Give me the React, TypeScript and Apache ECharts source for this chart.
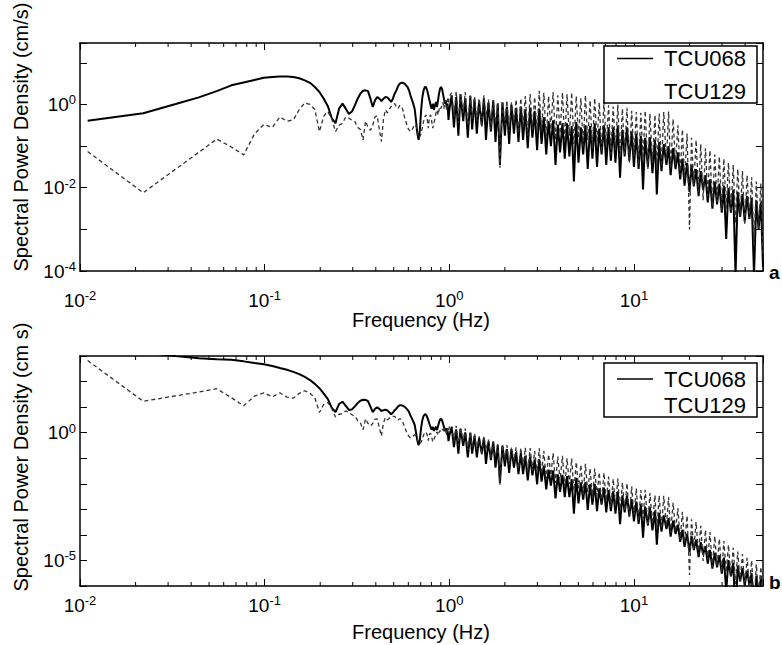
import React, { useEffect, useRef } from "react";
import * as echarts from "echarts";

// ---------- data (PSD values stored as log10 exponents) ----------
const DF = 0.011; // FFT bin width (Hz)
const FREQ_LOW = Array.from({ length: 91 }, (_, i) => Number(((i + 1) * DF).toFixed(3)));
const FREQ_HIGH = [
  1.03, 1.06, 1.09, 1.12, 1.15, 1.19, 1.22, 1.26, 1.3, 1.33,
  1.37, 1.41, 1.45, 1.5, 1.54, 1.58, 1.63, 1.68, 1.73, 1.78,
  1.83, 1.88, 1.94, 2.0, 2.05, 2.11, 2.17, 2.24, 2.3, 2.37,
  2.44, 2.51, 2.58, 2.66, 2.74, 2.82, 2.9, 2.99, 3.07, 3.16,
  3.25, 3.35, 3.45, 3.55, 3.65, 3.76, 3.87, 3.98, 4.1, 4.22,
  4.34, 4.47, 4.6, 4.73, 4.87, 5.01, 5.16, 5.31, 5.46, 5.62,
  5.79, 5.96, 6.13, 6.31, 6.49, 6.68, 6.88, 7.08, 7.29, 7.5,
  7.72, 7.94, 8.18, 8.41, 8.66, 8.91, 9.17, 9.44, 9.72, 10.0,
  10.3, 10.6, 10.9, 11.2, 11.5, 11.9, 12.2, 12.6, 13.0, 13.3,
  13.7, 14.1, 14.5, 15.0, 15.4, 15.8, 16.3, 16.8, 17.3, 17.8,
  18.3, 18.8, 19.4, 20.0, 20.5, 21.1, 21.7, 22.4, 23.0, 23.7,
  24.4, 25.1, 25.8, 26.6, 27.4, 28.2, 29.0, 29.9, 30.7, 31.6,
  32.5, 33.5, 34.5, 35.5, 36.5, 37.6, 38.7, 39.8, 41.0, 42.2,
  43.4, 44.7, 46.0, 47.3, 48.7, 50.0,
];

// panel a (cm/s)
const VEL_068_LOW = [
  -0.39, -0.21, 0.01, 0.17, 0.32, 0.46, 0.53, 0.59, 0.64, 0.66,
  0.67, 0.67, 0.66, 0.63, 0.58, 0.52, 0.42, 0.3, 0.14, -0.04,
  -0.33, -0.45, -0.1, 0.02, -0.1, -0.23, -0.17, -0.02, 0.14, 0.26,
  0.33, 0.34, 0.32, 0.14, -0.06, 0.1, 0.18, 0.14, 0.08, 0.14,
  0.18, 0.17, 0.12, 0.06, 0.14, 0.26, 0.34, 0.44, 0.5, 0.52,
  0.52, 0.5, 0.46, 0.42, 0.34, 0.22, 0.12, 0.02, -0.1, -0.37,
  -0.69, -0.85, -0.61, -0.13, 0.18, 0.34, 0.42, 0.42, 0.34, 0.22,
  0.1, -0.02, -0.1, 0.02, -0.13, -0.02, 0.06, -0.06, 0.1, 0.26,
  0.38, 0.42, 0.38, 0.26, 0.14, 0.02, 0.1, -0.06, 0.02, -0.37,
  -0.13,
];
const VEL_129_LOW = [
  -1.13, -2.12, -1.55, -1.15, -0.83, -1.02, -1.21, -0.71, -0.48, -0.55,
  -0.3, -0.4, -0.37, -0.12, 0.04, 0.0, -0.12, -0.65, -0.28, -0.17,
  -0.35, -0.65, -0.5, -0.45, -0.3, -0.33, -0.38, -0.41, -0.55, -0.6,
  -0.85, -0.4, -0.55, -0.62, -0.5, -0.3, -0.27, -0.6, -0.89, -0.35,
  -0.13, -0.2, -0.12, -0.05, 0.0, 0.02, -0.05, -0.1, -0.02, -0.05,
  -0.13, -0.3, -0.42, -0.55, -0.61, -0.65, -0.62, -0.55, -0.48, -0.5,
  -0.65, -0.8, -0.77, -0.7, -0.55, -0.4, -0.3, -0.25, -0.35, -0.57,
  -0.29, -0.25, -0.4, -0.57, -0.45, -0.35, -0.2, -0.13, -0.25, -0.13,
  -0.05, -0.1, 0.0, 0.05, -0.1, 0.1, 0.05, -0.15, 0.14, 0.05,
  0.2,
];
const VEL_068_HIGH = [
  0.22, -0.55, 0.18, -0.75, 0.25, -0.4, 0.15, -0.8, 0.2, -0.6,
  0.12, -0.7, 0.08, -0.5, 0.15, -0.85, 0.05, -0.65, 0.1, -0.9,
  0.02, -1.45, 0.05, -0.75, -0.05, -0.95, 0.0, -0.7, -0.08, -0.9,
  -0.05, -0.85, -0.12, -1.05, -0.08, -0.8, -0.15, -1.1, -0.1, -0.95,
  -0.3, -1.2, -0.4, -1.0, -0.38, -1.45, -0.48, -1.15, -0.45, -1.3,
  -0.45, -1.25, -0.52, -1.85, -0.42, -1.4, -0.55, -1.2, -0.5, -1.55,
  -0.52, -1.3, -0.45, -1.5, -0.58, -1.2, -0.5, -1.45, -0.55, -1.35,
  -0.55, -1.4, -0.5, -1.76, -0.6, -1.25, -0.55, -1.35, -0.65, -1.5,
  -0.7, -1.55, -0.75, -2.04, -0.8, -1.5, -0.78, -1.65, -0.85, -2.16,
  -0.9, -1.6, -0.95, -1.45, -1.0, -1.7, -1.05, -1.55, -1.15, -1.8,
  -1.3, -1.95, -1.4, -2.1, -1.45, -1.97, -1.55, -2.2, -1.6, -2.05,
  -1.7, -2.35, -1.8, -2.5, -1.85, -2.4, -1.9, -2.6, -1.95, -3.23,
  -2.0, -2.6, -2.05, -4.1, -2.1, -2.7, -2.15, -2.8, -2.2, -2.75,
  -2.25, -4.1, -2.3, -3.0, -2.35, -3.9,
];
const VEL_129_HIGH = [
  0.28, -0.3, 0.32, -0.45, 0.25, -0.2, 0.3, -0.5, 0.22, -0.35,
  0.2, -0.4, 0.15, -0.55, 0.22, -0.3, 0.12, -0.6, 0.1, -0.45,
  0.05, -1.52, 0.08, -0.5, 0.1, -0.65, 0.05, -0.45, 0.12, -0.7,
  0.15, -0.55, 0.2, -0.75, 0.25, -0.6, 0.18, -0.7, 0.33, -0.65,
  0.28, -0.8, 0.2, -0.6, 0.3, -0.85, 0.22, -0.7, 0.29, -0.9,
  0.25, -0.75, 0.29, -0.95, 0.2, -0.8, 0.15, -1.0, 0.22, -0.85,
  0.1, -1.05, 0.15, -0.9, 0.05, -1.15, 0.08, -1.0, -0.02, -1.2,
  -0.05, -1.1, 0.0, -1.3, -0.1, -1.2, -0.08, -1.4, -0.15, -1.25,
  -0.18, -1.45, -0.2, -1.3, -0.15, -1.55, -0.22, -1.4, -0.25, -1.6,
  -0.22, -1.5, -0.18, -1.35, -0.17, -1.55, -0.35, -1.45, -0.5, -1.7,
  -0.6, -1.8, -0.7, -3.0, -0.8, -1.95, -0.85, -2.1, -0.95, -2.3,
  -1.05, -2.2, -1.1, -2.45, -1.2, -2.35, -1.25, -2.55, -1.3, -2.5,
  -1.4, -2.6, -1.45, -2.85, -1.55, -2.7, -1.6, -2.9, -1.7, -2.75,
  -1.75, -3.4, -1.85, -3.0, -1.9, -3.6,
];

// panel b (cm s)
const DIS_068_LOW = [
  3.56, 3.14, 3.0, 2.91, 2.87, 2.85, 2.79, 2.73, 2.68, 2.61,
  2.53, 2.46, 2.38, 2.29, 2.18, 2.06, 1.91, 1.74, 1.53, 1.31,
  0.97, 0.81, 1.12, 1.21, 1.05, 0.89, 0.91, 1.03, 1.16, 1.25,
  1.29, 1.28, 1.23, 1.02, 0.8, 0.93, 0.99, 0.93, 0.85, 0.88,
  0.9, 0.87, 0.8, 0.72, 0.78, 0.88, 0.94, 1.03, 1.07, 1.07,
  1.05, 1.02, 0.96, 0.9, 0.81, 0.67, 0.56, 0.44, 0.31, 0.02,
  -0.31, -0.49, -0.26, 0.2, 0.5, 0.65, 0.72, 0.7, 0.61, 0.48,
  0.34, 0.21, 0.12, 0.23, 0.07, 0.17, 0.23, 0.1, 0.25, 0.4,
  0.51, 0.54, 0.49, 0.36, 0.23, 0.1, 0.17, 0.0, 0.07, -0.33,
  -0.1,
];
const DIS_129_LOW = [
  2.82, 1.23, 1.44, 1.59, 1.72, 1.37, 1.05, 1.43, 1.56, 1.4,
  1.56, 1.39, 1.35, 1.54, 1.64, 1.54, 1.37, 0.79, 1.11, 1.18,
  0.95, 0.61, 0.72, 0.74, 0.85, 0.79, 0.7, 0.64, 0.47, 0.39,
  0.11, 0.54, 0.36, 0.26, 0.36, 0.53, 0.54, 0.19, -0.13, 0.39,
  0.59, 0.5, 0.56, 0.61, 0.64, 0.64, 0.55, 0.49, 0.55, 0.5,
  0.4, 0.22, 0.08, -0.07, -0.14, -0.2, -0.19, -0.13, -0.08, -0.11,
  -0.27, -0.44, -0.42, -0.37, -0.23, -0.09, 0.0, 0.03, -0.08, -0.31,
  -0.05, -0.02, -0.18, -0.36, -0.25, -0.17, -0.03, 0.03, -0.1, 0.01,
  0.08, 0.02, 0.11, 0.15, -0.01, 0.18, 0.12, -0.09, 0.19, 0.09,
  0.23,
];
const DIS_068_HIGH = [
  0.22, -0.57, 0.13, -0.82, 0.16, -0.52, 0.01, -0.97, 0.0, -0.82,
  -0.12, -0.97, -0.21, -0.82, -0.2, -1.22, -0.34, -1.07, -0.35, -1.37,
  -0.48, -1.97, -0.5, -1.32, -0.64, -1.57, -0.64, -1.37, -0.77, -1.62,
  -0.8, -1.62, -0.91, -1.87, -0.93, -1.67, -1.05, -2.02, -1.04, -1.92,
  -1.29, -2.22, -1.45, -2.07, -1.48, -2.57, -1.63, -2.32, -1.65, -2.52,
  -1.7, -2.52, -1.82, -3.17, -1.77, -2.77, -1.95, -2.62, -1.94, -3.02,
  -2.02, -2.82, -2.0, -3.07, -2.18, -2.82, -2.15, -3.12, -2.25, -3.07,
  -2.3, -3.17, -2.3, -3.58, -2.45, -3.12, -2.45, -3.27, -2.6, -3.47,
  -2.7, -3.57, -2.8, -4.11, -2.89, -3.62, -2.92, -3.82, -3.05, -4.38,
  -3.14, -3.87, -3.24, -3.77, -3.35, -4.07, -3.44, -3.97, -3.6, -4.27,
  -3.8, -4.47, -3.95, -4.67, -4.04, -4.59, -4.19, -4.87, -4.29, -4.77,
  -4.45, -5.12, -4.59, -5.32, -4.7, -5.27, -4.8, -5.52, -4.89, -6.2,
  -4.99, -5.62, -5.1, -7.17, -5.2, -5.82, -5.3, -5.97, -5.4, -5.97,
  -5.5, -7.37, -5.6, -6.32, -5.7, -7.27,
];
const DIS_129_HIGH = [
  0.28, -0.32, 0.27, -0.52, 0.16, -0.32, 0.16, -0.67, 0.02, -0.57,
  -0.04, -0.67, -0.14, -0.87, -0.13, -0.67, -0.27, -1.02, -0.35, -0.92,
  -0.45, -2.04, -0.47, -1.07, -0.49, -1.27, -0.59, -1.12, -0.57, -1.42,
  -0.6, -1.32, -0.59, -1.57, -0.6, -1.47, -0.72, -1.62, -0.61, -1.62,
  -0.71, -1.82, -0.85, -1.67, -0.8, -1.97, -0.93, -1.87, -0.91, -2.12,
  -1.0, -2.02, -1.01, -2.27, -1.15, -2.17, -1.25, -2.42, -1.22, -2.32,
  -1.4, -2.57, -1.4, -2.47, -1.55, -2.77, -1.57, -2.67, -1.72, -2.92,
  -1.8, -2.87, -1.8, -3.12, -1.95, -3.07, -1.98, -3.32, -2.1, -3.22,
  -2.18, -3.47, -2.25, -3.37, -2.24, -3.67, -2.36, -3.57, -2.45, -3.82,
  -2.46, -3.77, -2.47, -3.67, -2.52, -3.92, -2.74, -3.87, -2.95, -4.17,
  -3.1, -4.32, -3.25, -5.57, -3.39, -4.57, -3.49, -4.77, -3.64, -5.02,
  -3.8, -4.97, -3.89, -5.27, -4.05, -5.22, -4.15, -5.47, -4.24, -5.47,
  -4.39, -5.62, -4.5, -5.92, -4.65, -5.82, -4.75, -6.07, -4.9, -5.97,
  -5.0, -6.67, -5.15, -6.32, -5.25, -6.97,
];

const STATIONS = ["TCU068", "TCU129"];
const X_MIN = 0.01;
const X_MAX = 50;
const Y_RANGE_A = [1e-4, 30];
const Y_RANGE_B = [1e-6, 1e3];
const MINOR_MULTS = [2, 3, 4, 5, 6, 7, 8, 9];
const MINOR_DECADES = [0.01, 0.1, 1, 10];
const Y_LABEL_A = "Spectral Power Density (cm/s)";
const Y_LABEL_B = "Spectral Power Density (cm s)";
const X_LABEL = "Frequency (Hz)";

const FONT = '"Liberation Sans", Arial, Helvetica, sans-serif';

function toPoints(lo: number[], hi: number[]) {
  return [
    ...FREQ_LOW.map((f, i) => [f, Math.pow(10, lo[i])]),
    ...FREQ_HIGH.map((f, i) => [f, Math.pow(10, hi[i])]),
  ];
}

const rich = {
  b: { fontSize: 19, lineHeight: 22, fontFamily: FONT, color: "#000" },
  s: { fontSize: 13, lineHeight: 6, verticalAlign: "top", fontFamily: FONT, color: "#000" },
};

const powFmt = (every: number) => (v: number) => {
  const e = Math.log10(v);
  const r = Math.round(e);
  if (Math.abs(e - r) > 1e-6 || r % every !== 0) return "";
  return `{b|10}{s|${r}}`;
};

export default function App() {
  const ref = useRef<HTMLDivElement | null>(null);

  useEffect(() => {
    document.body.style.margin = "0";
    if (!ref.current) return;
    const chart = echarts.init(ref.current, undefined, { renderer: "svg" });

    const axisBase = {
      type: "log",
      logBase: 10,
      splitLine: { show: false },
      axisLine: { show: true, onZero: false, lineStyle: { color: "#000", width: 1.5 } },
      axisTick: { show: true, inside: true, length: 7, lineStyle: { color: "#000", width: 1 } },
    };

    const minorX = MINOR_DECADES.flatMap((d) => MINOR_MULTS.map((m) => Number((d * m).toFixed(4)))).filter(
      (f) => f < X_MAX
    );

    const minorSeries = (idx: number) => ({
      type: "custom",
      xAxisIndex: idx,
      yAxisIndex: idx,
      silent: true,
      z: 5,
      data: minorX.map((f) => [f, 1]),
      renderItem: (params: any, api: any) => {
        const x = api.coord([api.value(0), api.value(1)])[0];
        const cs = params.coordSys;
        const st = { stroke: "#000", lineWidth: 1 };
        return {
          type: "group",
          children: [
            { type: "line", shape: { x1: x, y1: cs.y + cs.height, x2: x, y2: cs.y + cs.height - 4 }, style: st },
            { type: "line", shape: { x1: x, y1: cs.y, x2: x, y2: cs.y + 4 }, style: st },
          ],
        };
      },
    });

    const solid = { color: "#000", width: 2 };
    const dotted = { color: "#333", width: 1.3, type: [4, 3] };

    const legend = (top: number, h: number, r1: number, r2: number) => [
      {
        type: "rect",
        z: 100,
        shape: { x: 604, y: top, width: 153, height: h },
        style: { fill: "#fff", stroke: "#000", lineWidth: 1.5 },
      },
      {
        type: "line",
        z: 101,
        shape: { x1: 617, y1: r1, x2: 653, y2: r1 },
        style: { stroke: "#000", lineWidth: 1.5 },
      },
      {
        type: "text",
        z: 101,
        x: 746,
        y: r1,
        style: { text: STATIONS[0], font: `22px ${FONT}`, fill: "#000", align: "right", verticalAlign: "middle", textAlign: "right", textVerticalAlign: "middle" },
      },
      {
        type: "text",
        z: 101,
        x: 746,
        y: r2,
        style: { text: STATIONS[1], font: `22px ${FONT}`, fill: "#000", align: "right", verticalAlign: "middle", textAlign: "right", textVerticalAlign: "middle" },
      },
    ];

    const txt = (text: string, x: number, y: number, size: number, rot = 0, weight = "normal", align = "center") => ({
      type: "text",
      z: 100,
      x,
      y,
      rotation: rot,
      style: {
        text,
        font: `${weight} ${size}px ${FONT}`,
        fill: "#000",
        align,
        verticalAlign: "middle",
        textAlign: align,
        textVerticalAlign: "middle",
      },
    });

    const option: any = {
      animation: false,
      backgroundColor: "#fff",
      textStyle: { fontFamily: FONT },
      grid: [
        { left: 80, top: 43, width: 683, height: 228, containLabel: false },
        { left: 80, top: 356, width: 683, height: 230, containLabel: false },
      ],
      xAxis: [
        { ...axisBase, gridIndex: 0, position: "bottom", min: X_MIN, max: X_MAX, axisLabel: { margin: 18, formatter: powFmt(1), rich } },
        { ...axisBase, gridIndex: 0, position: "top", min: X_MIN, max: X_MAX, axisLabel: { show: false } },
        { ...axisBase, gridIndex: 1, position: "bottom", min: X_MIN, max: X_MAX, axisLabel: { margin: 8, formatter: powFmt(1), rich } },
        { ...axisBase, gridIndex: 1, position: "top", min: X_MIN, max: X_MAX, axisLabel: { show: false } },
      ],
      yAxis: [
        { ...axisBase, gridIndex: 0, position: "left", min: Y_RANGE_A[0], max: Y_RANGE_A[1], axisLabel: { margin: 4, formatter: powFmt(2), rich } },
        { ...axisBase, gridIndex: 0, position: "right", min: Y_RANGE_A[0], max: Y_RANGE_A[1], axisLabel: { show: false } },
        { ...axisBase, gridIndex: 1, position: "left", min: Y_RANGE_B[0], max: Y_RANGE_B[1], axisLabel: { margin: 4, formatter: powFmt(5), rich } },
        { ...axisBase, gridIndex: 1, position: "right", min: Y_RANGE_B[0], max: Y_RANGE_B[1], axisLabel: { show: false } },
      ],
      series: [
        { name: STATIONS[0], type: "line", xAxisIndex: 0, yAxisIndex: 0, symbol: "none", z: 2, lineStyle: solid, data: toPoints(VEL_068_LOW, VEL_068_HIGH) },
        { name: STATIONS[1], type: "line", xAxisIndex: 0, yAxisIndex: 0, symbol: "none", z: 3, lineStyle: dotted, data: toPoints(VEL_129_LOW, VEL_129_HIGH) },
        { name: STATIONS[0], type: "line", xAxisIndex: 2, yAxisIndex: 2, symbol: "none", z: 2, lineStyle: solid, data: toPoints(DIS_068_LOW, DIS_068_HIGH) },
        { name: STATIONS[1], type: "line", xAxisIndex: 2, yAxisIndex: 2, symbol: "none", z: 3, lineStyle: dotted, data: toPoints(DIS_129_LOW, DIS_129_HIGH) },
        minorSeries(0),
        minorSeries(2),
      ],
      graphic: [
        ...legend(46, 57, 58.5, 91.5),
        ...legend(363, 54, 379, 405),
        txt(Y_LABEL_A, 21, 137, 20, Math.PI / 2),
        txt(Y_LABEL_B, 21, 457, 20, Math.PI / 2),
        txt(X_LABEL, 421, 320, 20),
        txt(X_LABEL, 421, 632, 20),
        txt("a", 769, 272, 19, 0, "bold", "left"),
        txt("b", 769, 582, 19, 0, "bold", "left"),
      ],
    };

    chart.setOption(option);
    return () => chart.dispose();
  }, []);

  return <div ref={ref} style={{ width: 782, height: 645 }} />;
}
